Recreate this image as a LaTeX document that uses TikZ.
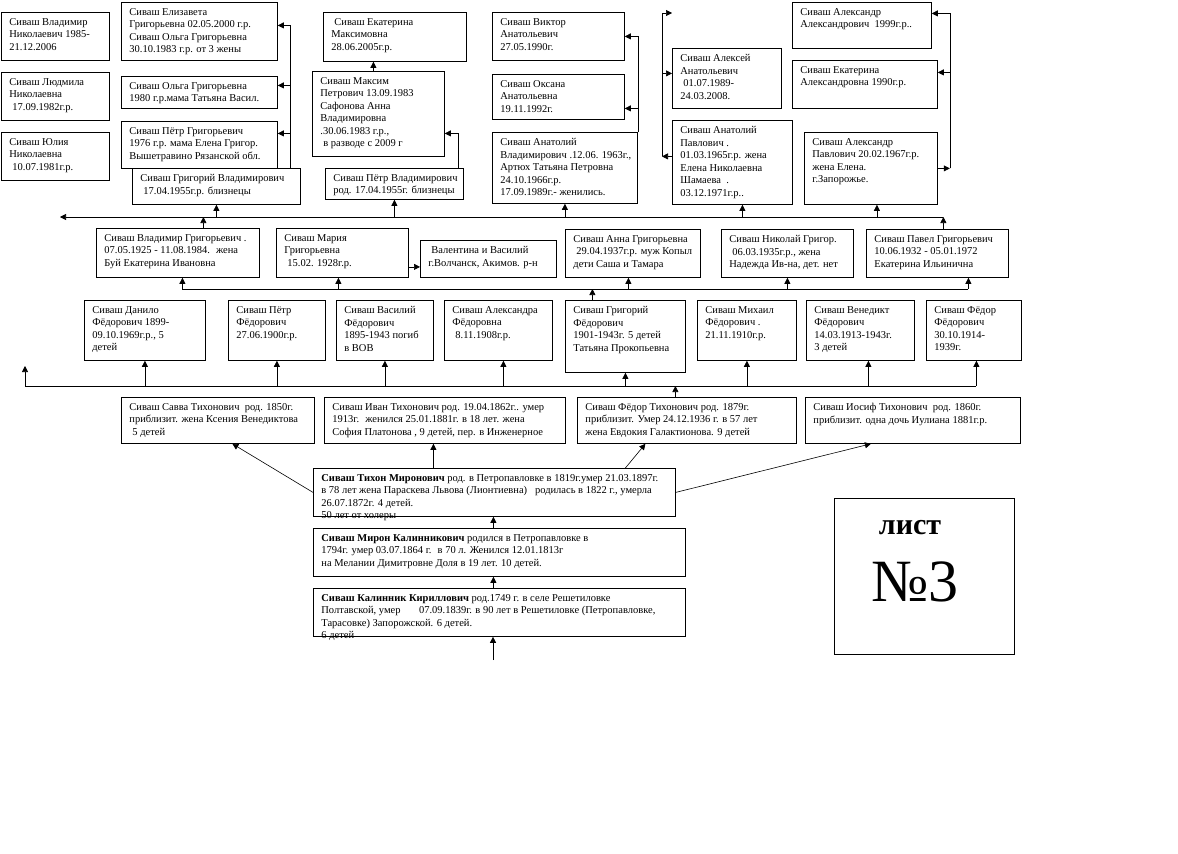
\documentclass[tikz,border=0pt]{standalone}
\usepackage{fontspec}
\setmainfont{Liberation Serif}
\usepackage{tikz}
\usetikzlibrary{arrows.meta}
\usetikzlibrary{calc}

\newcommand{\famfont}{\fontsize{10.5pt}{12.5pt}\selectfont}
% text block: width, height, lines
\newcommand{\famtext}[3]{\makebox[#1pt][l]{\parbox[c][#2pt][t]{600pt}{\vspace*{2pt}#3}}}
\newcommand{\ind}{\hspace*{3pt}}

\begin{document}
\begin{tikzpicture}[
    x=1pt, y=-1pt, line width=0.6pt,
    box/.style={rectangle, draw=black, line width=0.8pt, anchor=north west, inner xsep=8pt, inner ysep=4pt, font=\famfont},
    arr/.style={-{Triangle[length=6pt,width=6pt]}}
]
\useasboundingbox (0,0) rectangle (1178,854);

% generation 1-3
\node[box] (1_1) at (313,588) {\famtext{356}{40}{\textbf{Сиваш Калинник Кириллович} род.1749 г. в селе Решетиловке\\Полтавской, умер \ \ \ \ \ \ 07.09.1839г. в 90 лет в Решетиловке (Петропавловке,\\Тарасовке) Запорожской. 6 детей.\\6 детей}};
\node[box] (2_1) at (313,528) {\famtext{356}{40}{\textbf{Сиваш Мирон Калинникович} родился в Петропавловке в\\1794г. умер 03.07.1864 г. \ в 70 л. Женился 12.01.1813г\\на Мелании Димитровне Доля в 19 лет. 10 детей.}};
\node[box] (3_1) at (313,468) {\famtext{346}{40}{\textbf{Сиваш Тихон Миронович} род. в Петропавловке в 1819г.умер 21.03.1897г.\\в 78 лет жена Параскева Львова (Лионтиевна) \ \ родилась в 1822 г., умерла\\26.07.1872г. 4 детей.\\50 лет от холеры}};

% generation 4
\node[box] (4_1) at (121,397) {\famtext{177}{38}{Сиваш Савва Тихонович \ род. 1850г.\\приблизит. жена Ксения Венедиктова\\\ind 5 детей}};
\node[box] (4_2) at (324,397) {\famtext{225}{38}{Сиваш Иван Тихонович род. 19.04.1862г.. умер\\1913г. \ женился 25.01.1881г. в 18 лет. жена\\София Платонова , 9 детей, пер. в Инженерное}};
\node[box] (4_3) at (577,397) {\famtext{203}{38}{Сиваш Фёдор Тихонович род. 1879г.\\приблизит. Умер 24.12.1936 г. в 57 лет\\жена Евдокия Галактионова. 9 детей}};
\node[box] (4_4) at (805,397) {\famtext{199}{38}{Сиваш Иосиф Тихонович \ род. 1860г.\\приблизит. одна дочь Иулиана 1881г.р.}};

% generation 5
\node[box] (5_1) at (84,300) {\famtext{105}{52}{Сиваш Данило\\Фёдорович 1899-\\09.10.1969г.р., 5\\детей}};
\node[box] (5_2) at (228,300) {\famtext{81}{52}{Сиваш Пётр\\Фёдорович\\27.06.1900г.р.}};
\node[box] (5_3) at (336,300) {\famtext{81}{52}{Сиваш Василий\\Фёдорович\\1895-1943 погиб\\в ВОВ}};
\node[box] (5_4) at (444,300) {\famtext{92}{52}{Сиваш Александра\\Фёдоровна\\\ind 8.11.1908г.р.}};
\node[box] (5_5) at (565,300) {\famtext{104}{64}{Сиваш Григорий\\Фёдорович\\1901-1943г. 5 детей\\Татьяна Прокопьевна}};
\node[box] (5_6) at (697,300) {\famtext{83}{52}{Сиваш Михаил\\Фёдорович .\\21.11.1910г.р.}};
\node[box] (5_7) at (806,300) {\famtext{92}{52}{Сиваш Венедикт\\Фёдорович\\14.03.1913-1943г.\\3 детей}};
\node[box] (5_8) at (926,300) {\famtext{79}{52}{Сиваш Фёдор\\Фёдорович\\30.10.1914-\\1939г.}};

% generation 6
\node[box] (6_1) at (96,228) {\famtext{147}{41}{Сиваш Владимир Григорьевич .\\07.05.1925 - 11.08.1984. \ жена\\Буй Екатерина Ивановна}};
\node[box] (6_2) at (276,228) {\famtext{116}{41}{Сиваш Мария\\Григорьевна\\\ind 15.02. 1928г.р.}};
\node[box] (6_3) at (420,240) {\famtext{120}{29}{\ind Валентина и Василий\\г.Волчанск, Акимов. р-н}};
\node[box] (6_4) at (565,229) {\famtext{119}{40}{Сиваш Анна Григорьевна\\\ind 29.04.1937г.р. муж Копыл\\дети Саша и Тамара}};
\node[box] (6_5) at (721,229) {\famtext{116}{40}{Сиваш Николай Григор.\\\ind 06.03.1935г.р., жена\\Надежда Ив-на, дет. нет}};
\node[box] (6_6) at (866,229) {\famtext{126}{40}{Сиваш Павел Григорьевич\\10.06.1932 - 05.01.1972\\Екатерина Ильинична}};

% generation 7
\node[box] (7_1) at (132,168) {\famtext{152}{28}{Сиваш Григорий Владимирович\\\ind 17.04.1955г.р. близнецы}};
\node[box] (7_2) at (325,168) {\famtext{122}{23}{Сиваш Пётр Владимирович\\род. 17.04.1955г. близнецы}};
\node[box] (7_3) at (492,132) {\famtext{129}{63}{Сиваш Анатолий\\Владимирович .12.06. 1963г.,\\Артюх Татьяна Петровна\\24.10.1966г.р.\\17.09.1989г.- женились.}};
\node[box] (7_4) at (672,120) {\famtext{104}{76}{Сиваш Анатолий\\Павлович .\\01.03.1965г.р. жена\\Елена Николаевна\\Шамаева \ .\\03.12.1971г.р..}};
\node[box] (7_5) at (804,132) {\famtext{117}{64}{Сиваш Александр\\Павлович 20.02.1967г.р.\\жена Елена.\\г.Запорожье.}};

% generation 8
\node[box] (8_1) at (1,12) {\famtext{92}{40}{Сиваш Владимир\\Николаевич 1985-\\21.12.2006}};
\node[box] (8_2) at (1,72) {\famtext{92}{40}{Сиваш Людмила\\Николаевна\\\ind 17.09.1982г.р.}};
\node[box] (8_3) at (1,132) {\famtext{92}{40}{Сиваш Юлия\\Николаевна\\\ind 10.07.1981г.р.}};
\node[box] (8_4) at (121,2) {\famtext{140}{50}{Сиваш Елизавета\\Григорьевна 02.05.2000 г.р.\\Сиваш Ольга Григорьевна\\30.10.1983 г.р. от 3 жены}};
\node[box] (8_5) at (121,76) {\famtext{140}{24}{Сиваш Ольга Григорьевна\\1980 г.р.мама Татьяна Васил.}};
\node[box] (8_6) at (121,121) {\famtext{140}{39}{Сиваш Пётр Григорьевич\\1976 г.р. мама Елена Григор.\\Вышетравино Рязанской обл.}};
\node[box] (8_7) at (312,71) {\famtext{116}{77}{Сиваш Максим\\Петрович 13.09.1983\\Сафонова Анна\\Владимировна\\.30.06.1983 г.р.,\\\ind в разводе с 2009 г}};
\node[box] (8_8) at (492,12) {\famtext{116}{40}{Сиваш Виктор\\Анатольевич\\27.05.1990г.}};
\node[box] (8_9) at (492,74) {\famtext{116}{37}{Сиваш Оксана\\Анатольевна\\19.11.1992г.}};
\node[box] (8_10) at (672,48) {\famtext{93}{52}{Сиваш Алексей\\Анатольевич\\\ind 01.07.1989-\\24.03.2008.}};
\node[box] (8_11) at (792,2) {\famtext{123}{38}{Сиваш Александр\\Александрович \ 1999г.р..}};
\node[box] (8_12) at (792,60) {\famtext{129}{40}{Сиваш Екатерина\\Александровна 1990г.р.}};

% generation 9
\node[box] (9_1) at (323,12) {\famtext{127}{41}{\ind Сиваш Екатерина\\Максимовна\\28.06.2005г.р.}};

% sheet label
\node[box, minimum width=180pt, minimum height=156pt] (list) at (834,498) {};
\node[font={\fontsize{30pt}{32pt}\selectfont\bfseries}] (list_t) at (910,528) {лист};
\node[font={\fontsize{60pt}{62pt}\selectfont}] (list_n) at (915,582) {№3};

% free ends
\coordinate (1f) at (493,660);
\coordinate (5f) at (25,366);
\coordinate (5s) at (0,386);
\coordinate (6s) at (0,289);
\coordinate (6w) at (60,217);
\coordinate (7_4f) at (672,13);
\coordinate (7_4t) at ([xshift=-10pt,yshift=6pt]7_4.west);
\coordinate (7_5t) at ([xshift=12pt]7_5.east);

% line of descent
\draw[arr] (1f) -- (1f |- 1_1.south);
\draw[arr] ([xshift=-6pt]1_1.north) -- ([xshift=-6pt]1_1.north |- 2_1.south);
\draw[arr] ([xshift=-6pt]2_1.north) -- ([xshift=-6pt]2_1.north |- 3_1.south);

% Tikhon to sons
\draw[arr] (3_1.west) -- ([xshift=14.5pt]4_1.south);
\draw[arr] ([xshift=-61pt]3_1.north) -- ([xshift=-61pt]3_1.north |- 4_2.south);
\draw[arr] ([xshift=131pt]3_1.north) -- ([xshift=-41.5pt]4_3.south);
\draw[arr] (3_1.east) -- ([xshift=-42pt]4_4.south);

% Fyodor to children
\draw[arr] ([xshift=-11.5pt]4_3.north) -- ([xshift=-11.5pt]4_3.north |- 5s);
\draw (5f |- 5s) -- ([xshift=2.5pt]5_8.south |- 5s);
\draw[arr] (5f |- 5s) -- (5f);
\draw[arr] (5_1.south |- 5s) -- (5_1.south);
\draw[arr] (5_2.south |- 5s) -- (5_2.south);
\draw[arr] (5_3.south |- 5s) -- (5_3.south);
\draw[arr] ([xshift=5pt]5_4.south |- 5s) -- ([xshift=5pt]5_4.south);
\draw[arr] (5_5.south |- 5s) -- (5_5.south);
\draw[arr] (5_6.south |- 5s) -- (5_6.south);
\draw[arr] ([xshift=8pt]5_7.south |- 5s) -- ([xshift=8pt]5_7.south);
\draw[arr] ([xshift=2.5pt]5_8.south |- 5s) -- ([xshift=2.5pt]5_8.south);

% Grigoriy to children
\draw[arr] ([xshift=-33pt]5_5.north) -- ([xshift=-33pt]5_5.north |- 6s);
\draw ([xshift=4.5pt]6_1.south |- 6s) -- ([xshift=31pt]6_6.south |- 6s);
\draw[arr] ([xshift=4.5pt]6_1.south |- 6s) -- ([xshift=4.5pt]6_1.south);
\draw[arr] ([xshift=-4pt]6_2.south |- 6s) -- ([xshift=-4pt]6_2.south);
\draw[arr] ([xshift=-4.5pt]6_4.south |- 6s) -- ([xshift=-4.5pt]6_4.south);
\draw[arr] (6_5.south |- 6s) -- (6_5.south);
\draw[arr] ([xshift=31pt]6_6.south |- 6s) -- ([xshift=31pt]6_6.south);
\draw[arr] ([yshift=-14pt]6_2.east) -- ([yshift=-14pt]6_2.east -| 6_3.west);

% generation 6 to 7
\draw[arr] ([xshift=25.5pt]6_1.north) -- ([xshift=25.5pt]6_1.north |- 6w);
\draw[arr] ([xshift=6pt]6_6.north) -- ([xshift=6pt]6_6.north |- 6w);
\draw[arr] ([xshift=6pt]6_6.north |- 6w) -- (6w);
\draw[arr] (7_1.south |- 6w) -- (7_1.south);
\draw[arr] (7_2.south |- 6w) -- (7_2.south);
\draw[arr] (7_3.south |- 6w) -- (7_3.south);
\draw[arr] ([xshift=10pt]7_4.south |- 6w) -- ([xshift=10pt]7_4.south);
\draw[arr] ([xshift=6pt]7_5.south |- 6w) -- ([xshift=6pt]7_5.south);

% generation 7 to 8
\draw[arr] ([xshift=-11pt]7_1.north east) |- ([yshift=6pt]8_4.east);
\draw[arr] ([xshift=-11pt]7_1.north east) |- ([yshift=7pt]8_5.east);
\draw[arr] ([xshift=-11pt]7_1.north east) |- ([yshift=11.5pt]8_6.east);
\draw[arr] ([xshift=-6pt]7_2.north east) |- ([yshift=-19.5pt]8_7.east);
\draw[arr] ([xshift=-5pt]8_7.north) -- ([xshift=-5pt]8_7.north |- 9_1.south);
\draw[arr] (7_3.north east) |- (8_8.east);
\draw[arr] (7_3.north east) |- ([yshift=-11.5pt]8_9.east);
\draw[arr] ([yshift=6pt]7_4.west) -- (7_4t);
\draw[arr] (7_4t) |- (7_4f);
\draw[arr] (7_4t) |- ([yshift=5pt]8_10.west);
\draw[arr] (7_5.east) -- (7_5t);
\draw[arr] (7_5t) |- ([yshift=12pt]8_11.east);
\draw[arr] (7_5t) |- ([yshift=12pt]8_12.east);

\end{tikzpicture}
\end{document}
